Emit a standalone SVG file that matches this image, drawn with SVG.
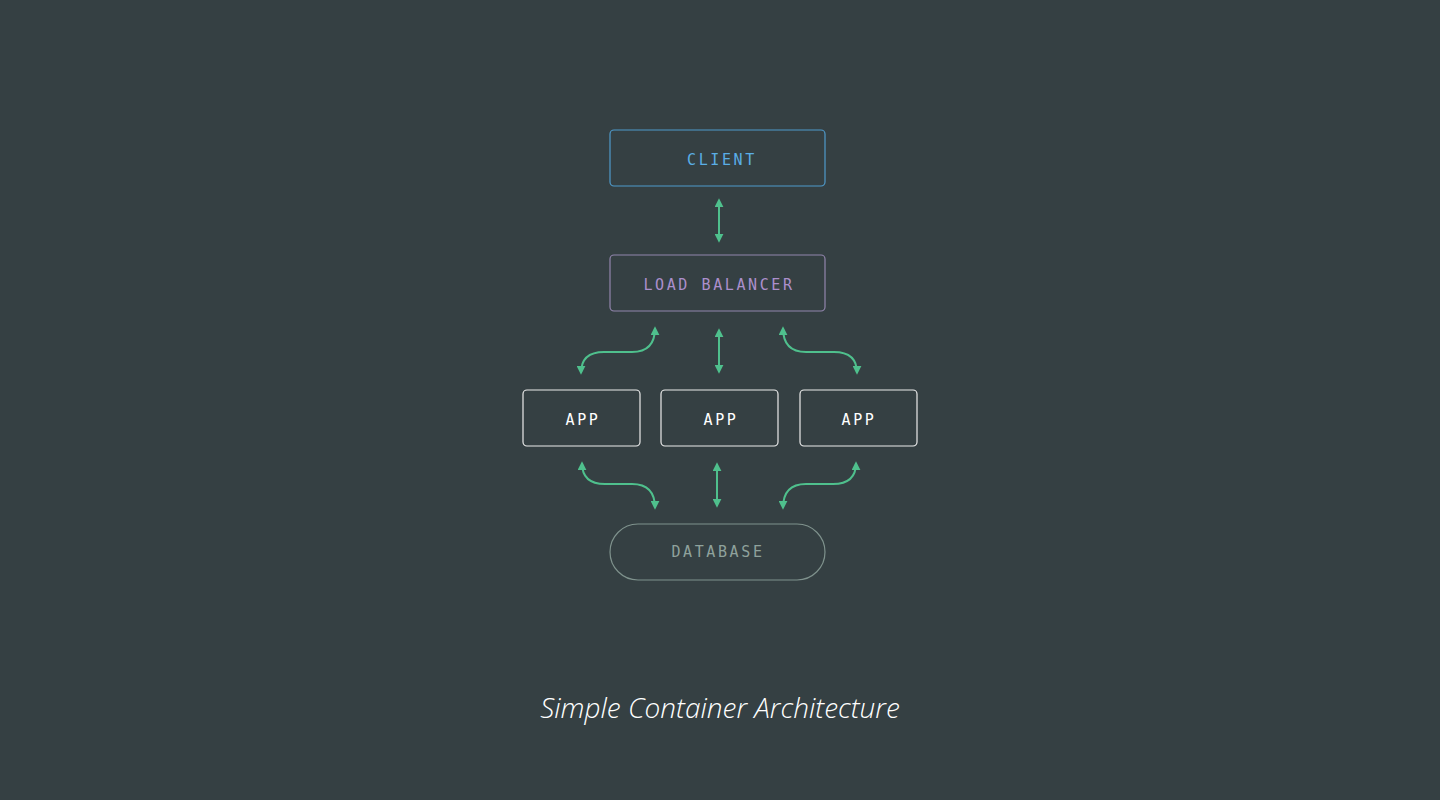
<svg xmlns="http://www.w3.org/2000/svg" width="1440" height="800" viewBox="0 0 1440 800">
<style>
.lbl{font-family:"DejaVu Sans Mono","Liberation Mono",monospace;font-size:15px;letter-spacing:2.6px;text-anchor:middle}
.box{fill:none;stroke-width:1.2}
.con{fill:none;stroke:#4fc08d;stroke-width:2;marker-start:url(#ah);marker-end:url(#ah)}
.title{font-family:"Open Sans",sans-serif;font-style:italic;font-weight:300;font-size:28px;fill:#ffffff;text-anchor:middle}
</style>
<defs>
<marker id="ah" viewBox="0 0 10 10" refX="8" refY="5" markerWidth="4.5" markerHeight="4.5" orient="auto-start-reverse" markerUnits="strokeWidth">
<path d="M0,0 L10,5 L0,10 Z" fill="#4fc08d"/>
</marker>
</defs>
<rect width="1440" height="800" fill="#354043"/>
<g id="client">
<rect class="box" x="610" y="130" width="215" height="56" rx="4" stroke="#4f9acb"/>
<text class="lbl" x="722" y="165" fill="#5aaee6">CLIENT</text>
</g>
<g id="loadbalancer">
<rect class="box" x="610" y="255" width="215" height="56" rx="4" stroke="#9285ad"/>
<text class="lbl" x="719" y="290" fill="#ac8fcc">LOAD BALANCER</text>
</g>
<g id="app1">
<rect class="box" x="523" y="390" width="117" height="56" rx="4" stroke="#ececec"/>
<text class="lbl" x="583" y="425" fill="#ffffff">APP</text>
</g>
<g id="app2">
<rect class="box" x="661" y="390" width="117" height="56" rx="4" stroke="#ececec"/>
<text class="lbl" x="721" y="425" fill="#ffffff">APP</text>
</g>
<g id="app3">
<rect class="box" x="800" y="390" width="117" height="56" rx="4" stroke="#ececec"/>
<text class="lbl" x="859" y="425" fill="#ffffff">APP</text>
</g>
<g id="database">
<rect class="box" x="610" y="524" width="215" height="56" rx="28" stroke="#7f928d"/>
<text class="lbl" x="718" y="557" fill="#8fa29c">DATABASE</text>
</g>
<g id="connectors">
<path class="con" d="M719,200 L719,241"/>
<path class="con" d="M719,330 L719,372"/>
<path class="con" d="M655,328 C655,344 648,352 632,352 L604,352 C588,352 581,360 581,373"/>
<path class="con" d="M783,328 C783,344 790,352 806,352 L834,352 C850,352 857,360 857,373"/>
<path class="con" d="M717,464 L717,506"/>
<path class="con" d="M582,463 C582,476 589,484 605,484 L632,484 C648,484 655,492 655,508"/>
<path class="con" d="M856,463 C856,476 849,484 833,484 L806,484 C790,484 783,492 783,508"/>
</g>
<text class="title" x="720" y="718">Simple Container Architecture</text>
</svg>
